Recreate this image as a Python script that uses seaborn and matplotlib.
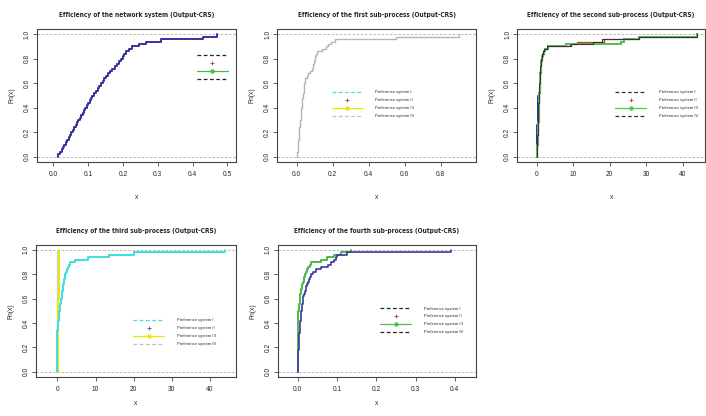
import numpy as np
import seaborn as sns
import matplotlib.pyplot as plt
from matplotlib.lines import Line2D

# efficiency scores (ECDF samples)
network_eff = [0.012, 0.018, 0.024, 0.028, 0.032, 0.036, 0.040, 0.044, 0.048, 0.052,
               0.056, 0.060, 0.064, 0.068, 0.072, 0.076, 0.080, 0.084, 0.088, 0.092,
               0.096, 0.100, 0.104, 0.108, 0.112, 0.117, 0.122, 0.127, 0.132, 0.137,
               0.142, 0.147, 0.152, 0.158, 0.164, 0.170, 0.176, 0.182, 0.188, 0.194,
               0.199, 0.204, 0.210, 0.218, 0.226, 0.245, 0.265, 0.31, 0.43, 0.47]

first_eff = [0.002, 0.004, 0.005, 0.006, 0.007, 0.008, 0.009, 0.010, 0.011, 0.012,
             0.014, 0.015, 0.017, 0.018, 0.020, 0.021, 0.022, 0.024, 0.025, 0.026,
             0.027, 0.028, 0.030, 0.032, 0.034, 0.036, 0.038, 0.040, 0.041, 0.043,
             0.044, 0.046, 0.055, 0.065, 0.075, 0.083, 0.088, 0.092, 0.096, 0.100,
             0.104, 0.107, 0.110, 0.14, 0.16, 0.175, 0.19, 0.21, 0.55, 0.9]

second_black = [0.02, 0.05, 0.08, 0.1, 0.12, 0.15, 0.18, 0.2, 0.22, 0.25,
                0.27, 0.3, 0.32, 0.34, 0.36, 0.38, 0.4, 0.42, 0.44, 0.46,
                0.48, 0.5, 0.52, 0.54, 0.56, 0.6, 0.64, 0.68, 0.72, 0.76,
                0.8, 0.84, 0.88, 0.92, 0.96, 1.0, 1.05, 1.1, 1.15, 1.2,
                1.4, 1.6, 1.8, 2.1, 2.8, 9.5, 15.5, 18, 28, 44]
second_green = [0.05, 0.1, 0.14, 0.18, 0.22, 0.26, 0.3, 0.33, 0.36, 0.39,
                0.42, 0.45, 0.48, 0.5, 0.52, 0.54, 0.56, 0.58, 0.6, 0.62,
                0.64, 0.66, 0.68, 0.7, 0.72, 0.75, 0.78, 0.81, 0.84, 0.87,
                0.9, 0.94, 0.98, 1.02, 1.06, 1.1, 1.15, 1.2, 1.3, 1.4,
                1.6, 1.8, 2.0, 2.4, 3.0, 8.0, 23, 24, 28, 44]
second_blue = [0.0, 0.02, 0.04, 0.05, 0.06, 0.08, 0.1, 0.12, 0.14, 0.16,
               0.18, 0.2, 0.22, 0.24, 0.26, 0.28, 0.3, 0.32, 0.34, 0.36,
               0.38, 0.4, 0.42, 0.44, 0.46, 0.75, 0.78, 0.81, 0.84, 0.87,
               0.9, 0.94, 0.98, 1.02, 1.06, 1.1, 1.15, 1.2, 1.3, 1.4,
               1.6, 1.8, 2.0, 2.4, 3.0, 8.0, 23, 24, 28, 44]
second_red = [0.05, 0.1, 0.14, 0.18, 0.22, 0.26, 0.3, 0.33, 0.36, 0.39,
              0.42, 0.45, 0.48, 0.5, 0.52, 0.54, 0.56, 0.58, 0.6, 0.62,
              0.64, 0.66, 0.68, 0.7, 0.72, 0.75, 0.78, 0.81, 0.84, 0.87,
              0.9, 0.94, 0.98, 1.02, 1.06, 1.1, 1.15, 1.2, 1.3, 1.4,
              1.6, 1.8, 2.0, 2.4, 3.2, 9.0, 11.0, 18.5, 28, 44]

third_cyan = [0.0] * 17 + [0.1, 0.15, 0.2, 0.25, 0.3, 0.35, 0.4, 0.5, 0.6, 0.7,
                           0.8, 0.9, 1.0, 1.1, 1.2, 1.3, 1.4, 1.5, 1.6, 1.7,
                           1.8, 1.9, 2.0, 2.3, 2.6, 2.8, 3.0, 3.3,
                           4.5, 8.0, 13.5, 20.0, 44.0]
third_yellow = [0.1, 0.15, 0.2, 0.22, 0.25, 0.28, 0.3, 0.32, 0.35, 0.4]
third_gray = [0.0] * 10

fourth_blue = [0.0, 0.0, 0.0, 0.0005, 0.001, 0.001, 0.0015, 0.002, 0.002, 0.0025,
               0.0025, 0.003, 0.003, 0.003, 0.003, 0.004, 0.005, 0.0055, 0.006, 0.0065,
               0.007, 0.0075, 0.008, 0.0085, 0.009, 0.01, 0.011, 0.012, 0.0125, 0.013,
               0.014, 0.016, 0.018, 0.02, 0.0225, 0.025, 0.027, 0.029, 0.031, 0.033,
               0.04, 0.0475, 0.06, 0.077, 0.085, 0.093, 0.097, 0.1, 0.125, 0.39]
fourth_green = [0.0] * 22 + [0.001, 0.002, 0.002, 0.003, 0.004, 0.004, 0.005, 0.005, 0.006,
                             0.007, 0.008, 0.009, 0.010, 0.012, 0.013, 0.015, 0.016, 0.018,
                             0.021, 0.024, 0.027, 0.031, 0.035, 0.06, 0.075, 0.093, 0.11, 0.135]

titles = ["Efficiency of the network system (Output-CRS)",
          "Efficiency of the first sub-process (Output-CRS)",
          "Efficiency of the second sub-process (Output-CRS)",
          "Efficiency of the third sub-process (Output-CRS)",
          "Efficiency of the fourth sub-process (Output-CRS)"]
legend_labels = ["Preference system I", "Preference system II",
                 "Preference system III", "Preference system IV"]

sns.set_style("ticks")
plt.rcParams['font.family'] = ['Liberation Sans', 'DejaVu Sans']

fig = plt.figure(figsize=(7.06, 4.16), dpi=100)
W, H = 706.0, 416.0


def make_ax(left, top, right, bottom):
    return fig.add_axes([left / W, 1 - bottom / H, (right - left) / W, (bottom - top) / H])


def style_ax(ax, title, xlim, xticks, xfmt, xpad):
    ax.axhline(0, color='#b0b0b0', ls=(0, (3, 2)), lw=0.6, zorder=0)
    ax.axhline(1, color='#b0b0b0', ls=(0, (3, 2)), lw=0.6, zorder=0)
    ax.set_xlim(xlim)
    ax.set_ylim(-0.04, 1.04)
    ax.set_xticks(xticks)
    ax.set_xticklabels([xfmt.format(t) for t in xticks])
    ax.set_yticks([0, 0.2, 0.4, 0.6, 0.8, 1.0])
    ax.set_yticklabels(["0.0", "0.2", "0.4", "0.6", "0.8", "1.0"], rotation=90, va='center')
    ax.tick_params(labelsize=4.8, length=3, width=0.6, color='#444444', pad=4)
    ax.tick_params(axis='y', pad=1.5)
    for s in ax.spines.values():
        s.set_visible(True)
        s.set_linewidth(0.8)
        s.set_color('#444444')
    ax.set_title(title, fontsize=4.7, fontweight='bold', pad=9,
                 family='DejaVu Sans', fontstretch='condensed')
    ax.set_xlabel("x", fontsize=4.8, labelpad=xpad)
    ax.set_ylabel("Fn(x)", fontsize=4.8, labelpad=6)


def add_legend(ax, x, y, styles, labels):
    handles = []
    for col, ls, mk in styles:
        handles.append(Line2D([], [], color=col, ls=ls, lw=0.9, marker=mk, markersize=2.5,
                              markeredgewidth=0.6))
    ax.legend(handles, labels, loc='upper left', bbox_to_anchor=(x, y), frameon=False,
              fontsize=3, handlelength=7.5, handletextpad=3.0, labelspacing=0.95,
              borderpad=0, borderaxespad=0, numpoints=1)


# panel 1
ax1 = make_ax(37, 29.3, 236, 161.7)
sns.ecdfplot(x=network_eff, ax=ax1, color='#34349a', linewidth=1.4)
style_ax(ax1, titles[0], (-0.047, 0.525), [0, 0.1, 0.2, 0.3, 0.4, 0.5], "{:.1f}", 11)
add_legend(ax1, 0.803, 0.82,
           [('#222222', (0, (3, 2)), None), ('#a0306a', 'none', '+'),
            ('#40c040', '-', 'o'), ('#222222', (0, (3, 2)), None)],
           [" ", " ", " ", " "])

# panel 2
ax2 = make_ax(277.3, 29.3, 476, 161.7)
sns.ecdfplot(x=first_eff, ax=ax2, color='#b4b4b4', linewidth=1.0)
style_ax(ax2, titles[1], (-0.108, 0.996), [0, 0.2, 0.4, 0.6, 0.8], "{:.1f}", 11)
add_legend(ax2, 0.274, 0.54,
           [('#40e0e0', (0, (3, 2)), None), ('#a0306a', 'none', '+'),
            ('#e8e800', '-', 'o'), ('#c0c0c0', (0, (3, 2)), None)],
           legend_labels)

# panel 3
ax3 = make_ax(517.3, 29.3, 705, 161.7)
sns.ecdfplot(x=second_red, ax=ax3, color='#d03030', linewidth=0.9)
sns.ecdfplot(x=second_blue, ax=ax3, color='#2828c8', linewidth=1.4)
sns.ecdfplot(x=second_green, ax=ax3, color='#50c850', linewidth=1.4)
sns.ecdfplot(x=second_black, ax=ax3, color='#333333', linewidth=0.8)
style_ax(ax3, titles[2], (-5.3, 46.1), [0, 10, 20, 30, 40], "{:d}", 11)
add_legend(ax3, 0.52, 0.54,
           [('#333333', (0, (3, 2)), None), ('#d03030', 'none', '+'),
            ('#50c850', '-', 'o'), ('#333333', (0, (3, 2)), None)],
           legend_labels)

# panel 4
ax4 = make_ax(36, 245, 236, 376.7)
sns.ecdfplot(x=third_gray, ax=ax4, color='#d0d0d0', linewidth=1.0)
sns.ecdfplot(x=third_yellow, ax=ax4, color='#e8e800', linewidth=1.4)
sns.ecdfplot(x=third_cyan, ax=ax4, color='#40dede', linewidth=1.4)
style_ax(ax4, titles[3], (-5.6, 46.8), [0, 10, 20, 30, 40], "{:d}", 5)
add_legend(ax4, 0.485, 0.442,
           [('#40e0e0', (0, (3, 2)), None), ('#a0306a', 'none', '+'),
            ('#e8e800', '-', 'o'), ('#c0c0c0', (0, (3, 2)), None)],
           legend_labels)

# panel 5
ax5 = make_ax(278, 245, 476, 376.7)
sns.ecdfplot(x=fourth_green, ax=ax5, color='#4cbb4c', linewidth=1.4)
sns.ecdfplot(x=fourth_blue, ax=ax5, color='#3a3aa0', linewidth=1.2)
style_ax(ax5, titles[4], (-0.05, 0.454), [0, 0.1, 0.2, 0.3, 0.4], "{:.1f}", 5)
add_legend(ax5, 0.515, 0.533,
           [('#222222', (0, (3, 2)), None), ('#a0306a', 'none', '+'),
            ('#4cbb4c', '-', 'o'), ('#222222', (0, (3, 2)), None)],
           legend_labels)

fig.savefig("out.png", dpi=100)
